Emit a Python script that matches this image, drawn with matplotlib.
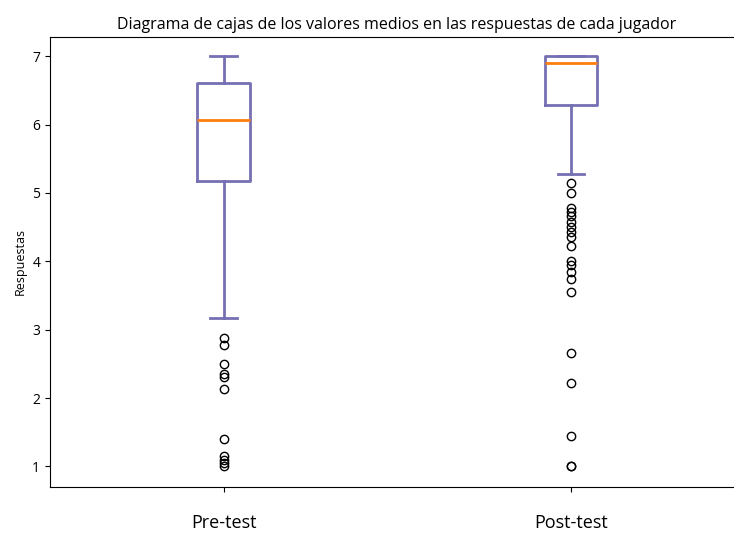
import matplotlib
matplotlib.use("Agg")
import matplotlib.pyplot as plt

plt.rcParams["font.family"] = ["Open Sans", "DejaVu Sans"]

labels = ["Pre-test", "Post-test"]
medians = [6.06, 6.90]
q1 = [5.17, 6.29]
q3 = [6.60, 7.00]
whisker_low = [3.17, 5.28]
whisker_high = [7.00, 7.00]
pre_fliers = [2.88, 2.78, 2.50, 2.35, 2.31, 2.13, 1.40, 1.16, 1.10, 1.05, 1.00]
post_fliers = [5.15, 5.00, 4.78, 4.72, 4.66, 4.58, 4.50, 4.43, 4.36, 4.22,
               4.00, 3.94, 3.85, 3.74, 3.55, 2.66, 2.22, 1.44, 1.00, 1.00]

stats = []
for i, name in enumerate(labels):
    stats.append(dict(label=name, med=medians[i], q1=q1[i], q3=q3[i],
                      whislo=whisker_low[i], whishi=whisker_high[i],
                      fliers=[pre_fliers, post_fliers][i]))

fig = plt.figure(figsize=(7.34, 5.33), dpi=100)
ax = fig.add_axes([0.068, 0.0863, 0.946, 0.8443])
purple = "#7570b3"
ax.bxp(stats, positions=[1, 2], widths=0.15,
       boxprops=dict(color=purple, linewidth=2),
       whiskerprops=dict(color=purple, linewidth=2),
       capprops=dict(color=purple, linewidth=2),
       medianprops=dict(color="#ff7f0e", linewidth=2),
       flierprops=dict(marker="o", markerfacecolor="none", markeredgecolor="black"))
ax.set_xlim(0.5, 2.5)
ax.set_ylim(0.7, 7.28)
ax.spines["right"].set_visible(False)
ax.tick_params(axis="x", labelsize=13, pad=16)
ax.tick_params(axis="y", labelsize=10)
ax.set_ylabel("Respuestas", fontsize=9)
ax.set_title("Diagrama de cajas de los valores medios en las respuestas de cada jugador",
             fontsize=11.5)
fig.savefig("out.png", dpi=100)
